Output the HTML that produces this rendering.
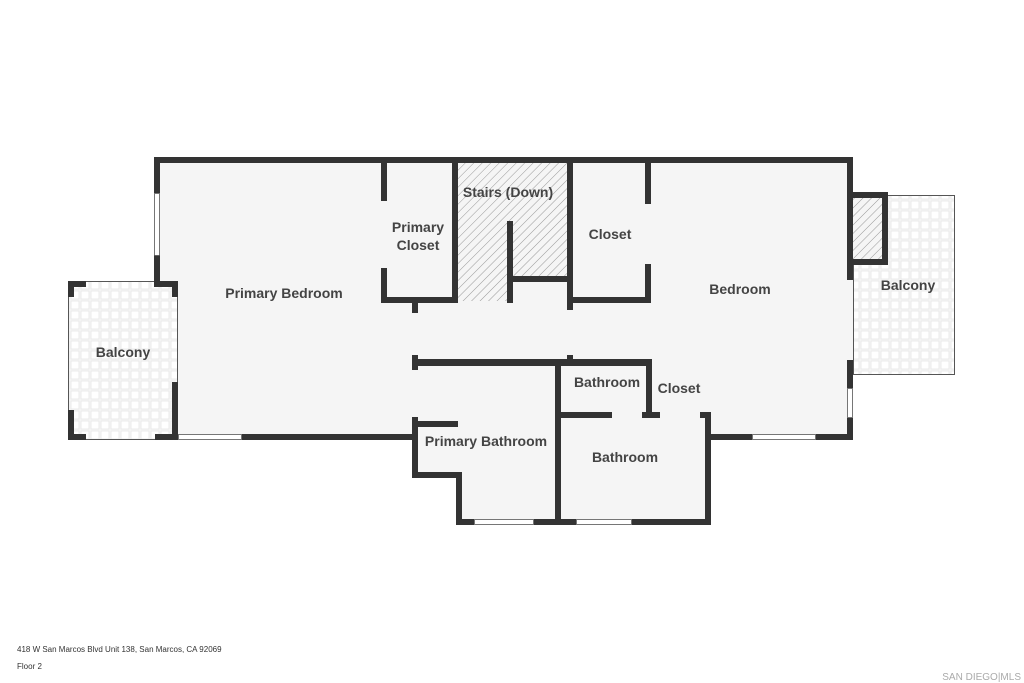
<!DOCTYPE html>
<html><head><meta charset="utf-8"><style>
html,body{margin:0;padding:0;background:#fff;}
svg{display:block;}
text{font-family:"Liberation Sans",sans-serif;}
.l{font-size:14px;font-weight:bold;fill:#444;text-anchor:middle;}
</style></head><body>
<svg width="1024" height="683" viewBox="0 0 1024 683" xmlns="http://www.w3.org/2000/svg">
<defs>
<pattern id="h" width="6" height="6" patternUnits="userSpaceOnUse" patternTransform="rotate(45)">
<rect width="6" height="6" fill="#f5f5f5"/><line x1="0" y1="0" x2="0" y2="6" stroke="#999" stroke-width="1"/>
</pattern>
<pattern id="t" width="10" height="10" patternUnits="userSpaceOnUse">
<rect width="10" height="10" fill="#f7f7f7"/><rect x="1" y="1" width="8" height="8" fill="#fff" stroke="#e6e6e6" stroke-width="0.8"/>
</pattern>
</defs>
<!-- floors -->
<rect x="154" y="157" width="699" height="283" fill="#f5f5f5"/>
<rect x="412" y="360" width="299" height="118" fill="#f5f5f5"/>
<rect x="456" y="478" width="255" height="47" fill="#f5f5f5"/>
<polygon points="458,163 570,163 570,279 510,279 510,301 458,301" fill="url(#h)"/>
<!-- balconies -->
<rect x="68.5" y="281.5" width="109" height="158" fill="url(#t)" stroke="#555" stroke-width="1"/>
<rect x="853.5" y="195.5" width="101" height="179" fill="url(#t)" stroke="#555" stroke-width="1"/>
<rect x="850" y="195" width="35" height="67" fill="url(#h)"/>
<g fill="#333">
<rect x="154" y="157" width="699" height="6"/>
<rect x="154" y="157" width="6" height="36"/>
<rect x="154" y="255" width="6" height="30"/>
<rect x="68" y="281" width="6" height="16"/><rect x="68" y="281" width="18" height="6"/>
<rect x="68" y="410" width="6" height="30"/><rect x="68" y="434" width="18" height="6"/>
<rect x="154" y="281" width="24" height="6"/><rect x="172" y="281" width="6" height="16"/>
<rect x="172" y="382" width="6" height="58"/><rect x="155" y="434" width="23" height="6"/>
<rect x="242" y="434" width="176" height="6"/>
<rect x="381" y="157" width="6" height="44"/><rect x="381" y="268" width="6" height="35"/>
<rect x="381" y="297" width="77" height="6"/>
<rect x="452" y="157" width="6" height="146"/>
<rect x="507" y="221" width="6" height="82"/>
<rect x="507" y="276" width="66" height="6"/>
<rect x="567" y="157" width="6" height="153"/>
<rect x="567" y="355" width="6" height="7"/>
<rect x="412" y="297" width="6" height="16"/>
<rect x="412" y="355" width="6" height="15"/>
<rect x="412" y="417" width="6" height="61"/>
<rect x="412" y="472" width="50" height="6"/>
<rect x="456" y="472" width="6" height="53"/>
<rect x="418" y="421" width="40" height="6"/>
<rect x="412" y="359" width="240" height="7"/>
<rect x="456" y="519" width="18" height="6"/>
<rect x="534" y="519" width="42" height="6"/>
<rect x="632" y="519" width="79" height="6"/>
<rect x="555" y="362" width="6" height="163"/>
<rect x="646" y="359" width="6" height="59"/>
<rect x="555" y="412" width="57" height="6"/>
<rect x="642" y="412" width="18" height="6"/>
<rect x="700" y="412" width="11" height="6"/>
<rect x="705" y="412" width="6" height="113"/>
<rect x="705" y="434" width="47" height="6"/>
<rect x="816" y="434" width="37" height="6"/>
<rect x="645" y="157" width="6" height="47"/>
<rect x="645" y="264" width="6" height="39"/>
<rect x="567" y="297" width="84" height="6"/>
<rect x="847" y="157" width="6" height="123"/>
<rect x="847" y="360" width="6" height="28"/>
<rect x="847" y="418" width="6" height="22"/>
<rect x="847" y="192" width="41" height="6"/>
<rect x="882" y="192" width="6" height="73"/>
<rect x="847" y="259" width="41" height="6"/>
</g>
<g fill="#fff" stroke="#555" stroke-width="0.8">
<rect x="154.5" y="193.5" width="5" height="62"/>
<rect x="178.5" y="434.5" width="63" height="5"/>
<rect x="474.5" y="519.5" width="59" height="5"/>
<rect x="576.5" y="519.5" width="55" height="5"/>
<rect x="752.5" y="434.5" width="63" height="5"/>
<rect x="847.5" y="388.5" width="5" height="29"/>
</g>
<text class="l" x="284" y="298">Primary Bedroom</text>
<text class="l" x="418" y="232">Primary</text>
<text class="l" x="418" y="250">Closet</text>
<text class="l" x="508" y="197">Stairs (Down)</text>
<text class="l" x="610" y="239">Closet</text>
<text class="l" x="740" y="294">Bedroom</text>
<text class="l" x="908" y="290">Balcony</text>
<text class="l" x="123" y="357">Balcony</text>
<text class="l" x="607" y="387">Bathroom</text>
<text class="l" x="679" y="393">Closet</text>
<text class="l" x="486" y="446">Primary Bathroom</text>
<text class="l" x="625" y="462">Bathroom</text>
<text x="17" y="652" font-size="8" fill="#333">418 W San Marcos Blvd Unit 138, San Marcos, CA 92069</text>
<text x="17" y="669" font-size="8" fill="#333">Floor 2</text>
<text x="1021" y="680" font-size="10" fill="#aaa" text-anchor="end">SAN DIEGO|MLS</text>
</svg>
</body></html>
